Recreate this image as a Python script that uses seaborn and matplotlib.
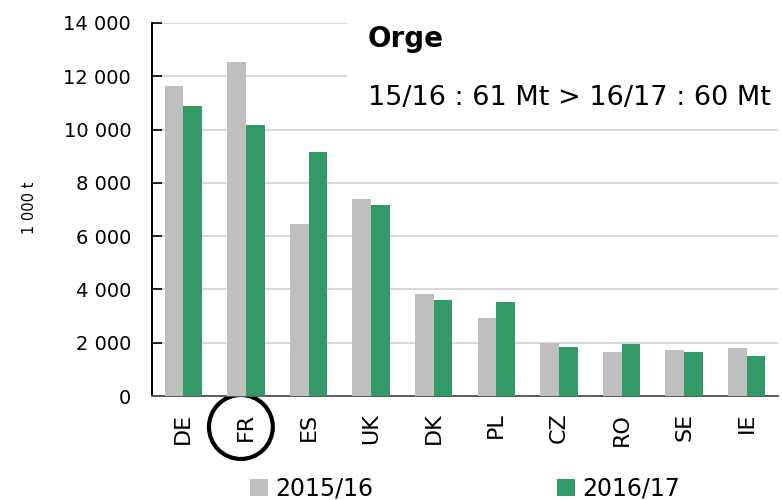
import matplotlib
matplotlib.use("Agg")
import matplotlib.pyplot as plt
from matplotlib.patches import Ellipse, Rectangle, Patch
from matplotlib.ticker import FuncFormatter
from matplotlib.transforms import blended_transform_factory
import pandas as pd
import seaborn as sns

# Barley production by country, 1 000 t
countries = ["DE", "FR", "ES", "UK", "DK", "PL", "CZ", "RO", "SE", "IE"]
prod_2015 = [11640, 12540, 6460, 7390, 3830, 2930, 2000, 1650, 1720, 1800]
prod_2016 = [10890, 10170, 9160, 7170, 3600, 3530, 1840, 1950, 1640, 1500]
seasons = ["2015/16", "2016/17"]
colors = {"2015/16": "#BFBFBF", "2016/17": "#339966"}

df = pd.DataFrame({
    "country": countries * 2,
    "season": [seasons[0]] * len(countries) + [seasons[1]] * len(countries),
    "value": prod_2015 + prod_2016,
})

sns.set_theme(style="white")
plt.rcParams["font.family"] = ["DejaVu Sans"]
plt.rcParams["text.color"] = "black"

fig = plt.figure(figsize=(7.82, 5.0), dpi=100)
ax = fig.add_axes([152 / 782, 104 / 500, 626 / 782, 373 / 500])

sns.barplot(data=df, x="country", y="value", hue="season", order=countries,
            hue_order=seasons, palette=colors, width=0.6, saturation=1,
            linewidth=0, ax=ax, legend=False, zorder=3)

ax.set_ylim(0, 14000)
ax.set_yticks(range(0, 14001, 2000))
ax.yaxis.set_major_formatter(FuncFormatter(lambda v, p: f"{int(v):,}".replace(",", " ")))
ax.grid(axis="y", color="#D9D9D9", linewidth=1.5, zorder=0)
ax.set_axisbelow(True)

for side in ["top", "right"]:
    ax.spines[side].set_visible(False)
ax.spines["left"].set_color("black")
ax.spines["left"].set_linewidth(1.4)
ax.spines["bottom"].set_color("#595959")
ax.spines["bottom"].set_linewidth(1.4)

ax.tick_params(axis="y", direction="in", length=7, width=1.2, color="black",
               labelsize=14, pad=15, left=True)
ax.tick_params(axis="x", length=0, labelsize=16, pad=12, labelrotation=90)
for lab in ax.get_yticklabels() + ax.get_xticklabels():
    lab.set_color("black")

ax.set_xlabel("")
ax.set_ylabel("1 000 t", fontsize=10.5, color="black")
ax.yaxis.set_label_coords(-0.183, 0.504)

# white box behind the title text, hiding the gridlines
ax.add_patch(Rectangle((0.3115, 0.7265), 0.69, 0.3, transform=ax.transAxes,
                       facecolor="white", edgecolor="none", zorder=2, clip_on=False))
ax.text(0.345, 0.9357, "Orge", transform=ax.transAxes, fontsize=20,
        fontweight="bold", color="black", va="baseline", zorder=4)
ax.text(0.345, 0.780, "15/16 : 61 Mt > 16/17 : 60 Mt", transform=ax.transAxes,
        fontsize=19.5, color="black", va="baseline", zorder=4)

# circle around FR
trans = blended_transform_factory(ax.transData, ax.transAxes)
ax.add_patch(Ellipse((countries.index("FR") - 0.08, -0.083), 1.02, 0.1716,
                     transform=trans, fill=False, edgecolor="black",
                     linewidth=3, clip_on=False))

handles = [Patch(facecolor=colors[s], edgecolor="none", label=s) for s in seasons]
ax.legend(handles=handles, loc="center", bbox_to_anchor=(0.5, -0.249),
          ncol=2, frameon=False, fontsize=17, handlelength=0.76,
          handleheight=0.76, handletextpad=0.34, columnspacing=7.75,
          borderaxespad=0, borderpad=0, labelcolor="black")

fig.savefig("out.png", dpi=100)
